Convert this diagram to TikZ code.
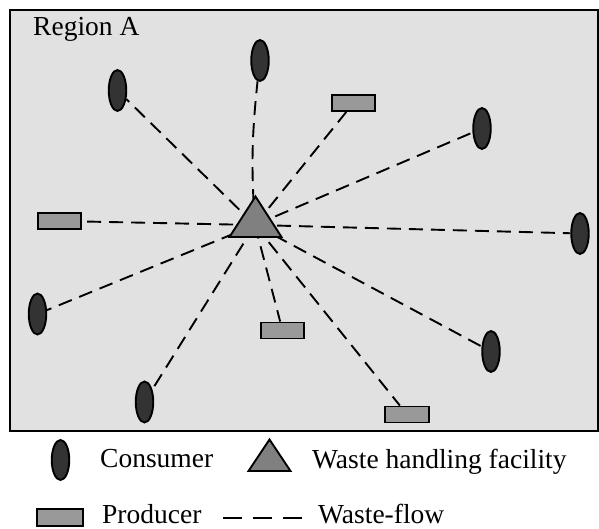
\documentclass[tikz,border=0pt]{standalone}
\usepackage{fontspec}
\setmainfont{Liberation Serif}
\usetikzlibrary{shapes.geometric}
\definecolor{regionbg}{HTML}{E1E1E1}
\definecolor{consumerfill}{HTML}{333333}
\definecolor{producerfill}{HTML}{999999}
\definecolor{facilityfill}{HTML}{808080}
\begin{document}
\begin{tikzpicture}[x=1pt,y=-1pt,
  consumer/.style={ellipse, draw, line width=1.9pt, fill=consumerfill,
    minimum width=17.5pt, minimum height=41pt, inner sep=0pt},
  producer/.style={rectangle, draw, line width=1.9pt, fill=producerfill,
    minimum width=43.5pt, minimum height=16pt, inner sep=0pt},
  facility/.style={draw, line width=1.9pt, fill=facilityfill, line join=miter},
  flow/.style={line width=1.9pt, dash pattern=on 14pt off 8pt},
  lbl/.style={font=\fontsize{27.5}{32}\selectfont, anchor=base west, inner sep=0pt}]
\useasboundingbox (0,0) rectangle (599,529);

% region
\draw[line width=2pt, fill=regionbg] (10,10) rectangle (598,431);
\node[lbl] (title) at (33,36) {Region A};

% consumers
\node[consumer] (c1) at (117.5,90.5) {};
\node[consumer] (c2) at (260,60.5) {};
\node[consumer] (c3) at (482,128.5) {};
\node[consumer] (c4) at (580,233.5) {};
\node[consumer] (c5) at (491,351.5) {};
\node[consumer] (c6) at (37.5,314) {};
\node[consumer] (c7) at (144.5,402) {};

% producers
\node[producer] (p1) at (353.5,103) {};
\node[producer] (p2) at (59.5,221) {};
\node[producer] (p3) at (282.5,330.5) {};
\node[producer] (p4) at (407,414.5) {};

% waste handling facility hub
\coordinate (fac) at (255,225);

% waste flows
\draw[flow] (fac) -- (c1);
\draw[flow] (fac) to[bend left=5] (c2);
\draw[flow] (fac) -- (c3);
\draw[flow] (fac) -- (c4);
\draw[flow] (fac) -- (c5);
\draw[flow] (fac) -- (c6);
\draw[flow] (fac) -- (c7);
\draw[flow] (fac) -- (p1);
\draw[flow] (fac) -- (p2);
\draw[flow] (fac) -- (p3);
\draw[flow] (fac) -- (p4);

% facility triangle on top of the flows
\draw[facility] (255.5,196.5) -- (281.5,237) -- (229.5,237) -- cycle;

% legend
\node[consumer, minimum height=40pt] (lc) at (60.5,460) {};
\node[lbl] (lct) at (100,467) {Consumer};
\draw[facility] (269.5,439.5) -- (290.5,471) -- (248.5,471) -- cycle;
\node[lbl] (lft) at (312,468) {Waste handling facility};
\node[producer, minimum width=46.5pt, minimum height=16.5pt] (lp) at (60,517.5) {};
\node[lbl] (lpt) at (102,523.5) {Producer};
\coordinate (ld1) at (223,518);
\coordinate (ld2) at (302,518);
\draw[line width=1.9pt, dash pattern=on 19pt off 11pt] (ld1) -- (ld2);
\node[lbl] (lwt) at (318,523.5) {Waste-flow};
\end{tikzpicture}
\end{document}
